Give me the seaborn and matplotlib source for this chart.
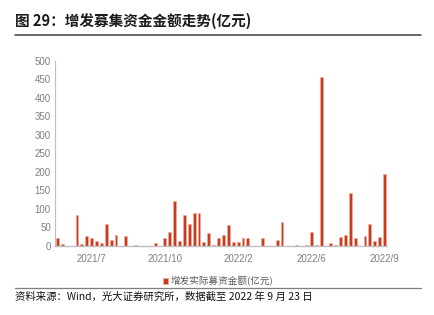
import numpy as np
import pandas as pd
import matplotlib
matplotlib.use("Agg")
import matplotlib.pyplot as plt
import seaborn as sns

# ---- data ----
values = [20, 4, 0, 0, 82, 4, 25, 20, 14, 6,
          59, 15, 30, 0, 25, 0, 3, 0, 0, 0,
          6, 0, 20, 37, 121, 14, 82, 60, 88, 89,
          10, 35, 3, 22, 28, 56, 10, 10, 22, 22,
          0, 0, 20, 0, 0, 16, 65, 0, 0, 3,
          0, 3, 38, 3, 455, 0, 8, 3, 24, 29,
          142, 21, 0, 26, 58, 14, 24, 193]
categories = list(range(len(values)))
tick_labels = ["2021/7", "2021/10", "2022/2", "2022/6", "2022/9"]
tick_index = [7, 22, 37, 52, 67]
y_ticks = [0, 50, 100, 150, 200, 250, 300, 350, 400, 450, 500]
series_name = "增发实际募资金额(亿元)"
title = "图 29：增发募集资金金额走势(亿元)"
source = "资料来源：Wind，光大证券研究所，数据截至 2022 年 9 月 23 日"

df = pd.DataFrame({"cat": categories, "val": values})

sns.set_theme(style="white")
plt.rcParams["font.family"] = ["Noto Sans CJK SC", "DejaVu Sans"]

BAR = "#CB3A1E"
GRAY = "#7F7F7F"

fig = plt.figure(figsize=(4.34, 3.15), dpi=100)
ax = fig.add_axes([55 / 434, (315 - 245.7) / 315, (387 - 55) / 434, 185 / 315])

sns.barplot(data=df, x="cat", y="val", color=BAR, width=0.6, ax=ax,
            saturation=1, edgecolor="#EFB3A3", linewidth=0.4, label=series_name)

ax.set_xlim(-0.5, len(values) - 0.5)
ax.set_ylim(0, 500)
ax.set_yticks(y_ticks)
ax.set_yticklabels([str(v) for v in y_ticks], fontsize=7, color=GRAY,
                   family=["Liberation Sans", "DejaVu Sans"])
ax.set_xticks(tick_index)
ax.set_xticklabels(tick_labels, fontsize=7, color=GRAY,
                   family=["Liberation Sans", "DejaVu Sans"])
ax.set_xticks(np.arange(len(values)) + 0.5, minor=True)
ax.tick_params(axis="x", which="major", length=0, pad=6)
ax.tick_params(axis="x", which="minor", length=2.5, direction="in", color="#CFCFCF", width=0.8)
ax.tick_params(axis="y", which="major", length=2, direction="in", color="#BFBFBF", pad=3)
ax.set_xlabel("")
ax.set_ylabel("")
for s in ["top", "right"]:
    ax.spines[s].set_visible(False)
ax.spines["left"].set_color("#BFBFBF")
ax.spines["left"].set_linewidth(0.8)
ax.spines["bottom"].set_color("#BFBFBF")
ax.spines["bottom"].set_linewidth(1.0)
ax.grid(False)

leg = ax.legend(loc="center", bbox_to_anchor=(218 / 434, 1 - 281 / 315),
                bbox_transform=fig.transFigure, frameon=False, fontsize=6.9,
                handlelength=0.55, handleheight=0.55, handletextpad=0.2)
for t in leg.get_texts():
    t.set_color("#595959")

fig.text(15 / 434, 1 - 21 / 315, title, fontsize=10.5, color="#1A1A1A",
         ha="left", va="center", weight="bold")
fig.add_artist(plt.Line2D([15 / 434, 421 / 434], [1 - 34.5 / 315] * 2,
                          color="#3F3F3F", linewidth=1.1))
fig.add_artist(plt.Line2D([15 / 434, 421 / 434], [1 - 288 / 315] * 2,
                          color="#7F7F7F", linewidth=0.9))
fig.text(15 / 434, 1 - 297 / 315, source, fontsize=7.5, color="#111111",
         ha="left", va="center")

fig.savefig("out.png", dpi=100)
